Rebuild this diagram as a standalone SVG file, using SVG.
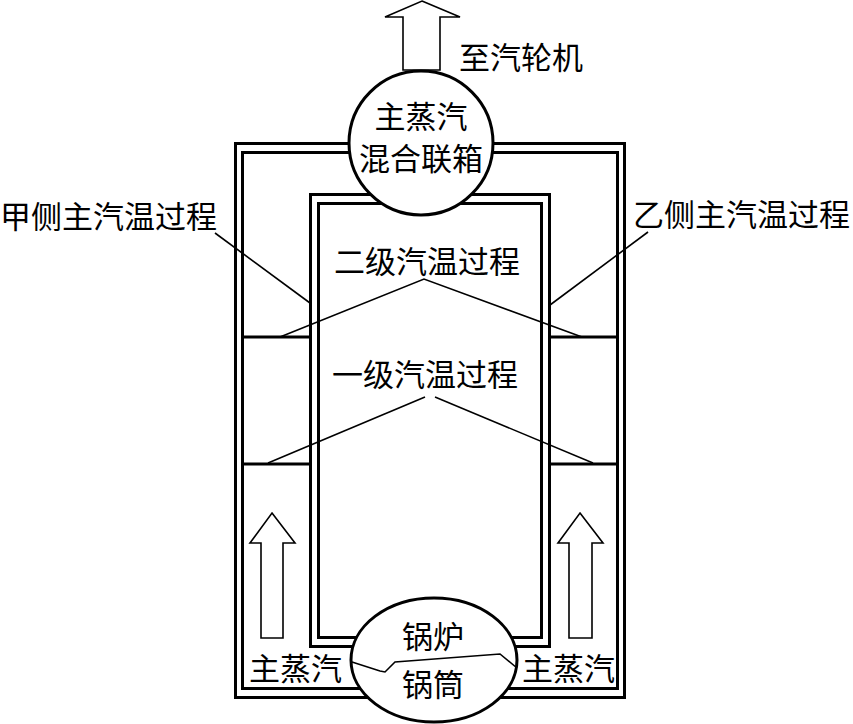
<svg xmlns="http://www.w3.org/2000/svg" width="853" height="724" viewBox="0 0 853 724">
<style>
.frame{fill:none;stroke:#000;stroke-width:3}
.thin{fill:none;stroke:#000;stroke-width:1.6}
.arrow{fill:#fff;stroke:#000;stroke-width:1.6;stroke-linejoin:miter}
.node{fill:#fff;stroke:#000;stroke-width:3}
text{font-family:"Noto Sans CJK SC","Liberation Serif",serif;font-size:31px;fill:#000}
.mid{text-anchor:middle}
</style>
<rect width="853" height="724" fill="#fff"/>
<g id="connectors">
<rect class="frame" x="235.5" y="143.5" width="389" height="554"/>
<rect class="frame" x="242.5" y="152.5" width="375" height="536"/>
<rect class="frame" x="310.5" y="194.5" width="239" height="452"/>
<rect class="frame" x="318.5" y="203.5" width="223" height="434"/>
<line class="frame" x1="243" y1="337" x2="310" y2="337"/>
<line class="frame" x1="549" y1="337" x2="617" y2="337"/>
<line class="frame" x1="243" y1="464" x2="310" y2="464"/>
<line class="frame" x1="549" y1="464" x2="617" y2="464"/>
<polyline class="thin" points="215,233 310,303"/>
<polyline class="thin" points="648,232 550,305"/>
<polyline class="thin" points="280,337 424,279 582,337"/>
<polyline class="thin" points="268,463 425,397"/>
<polyline class="thin" points="435,397 593,463"/>
<polygon class="arrow" points="422,1 460,17 440,17 440,70 403,70 403,17 385,17"/>
<polygon class="arrow" points="272,513 295,543 283,543 283,638 261,638 261,543 250,543"/>
<polygon class="arrow" points="580,513 603,543 592,543 592,638 569,638 569,543 558,543"/>
</g>
<g id="header">
<circle class="node" cx="421" cy="143" r="72"/>
<text class="mid" x="421" y="128">主蒸汽</text>
<text class="mid" x="421" y="170">混合联箱</text>
</g>
<g id="drum">
<ellipse class="node" cx="434" cy="660" rx="83" ry="62"/>
<polyline class="thin" points="352,662 380,671 385,672 395,662 500,654 517,668"/>
<text class="mid" x="433" y="648">锅炉</text>
<text class="mid" x="433" y="696">锅筒</text>
</g>
<g id="labels">
<text x="459" y="69">至汽轮机</text>
<text x="0" y="228">甲侧主汽温过程</text>
<text x="633" y="226">乙侧主汽温过程</text>
<text class="mid" x="427" y="273">二级汽温过程</text>
<text class="mid" x="425" y="386">一级汽温过程</text>
<text x="249" y="680">主蒸汽</text>
<text x="522" y="680">主蒸汽</text>
</g>
</svg>
